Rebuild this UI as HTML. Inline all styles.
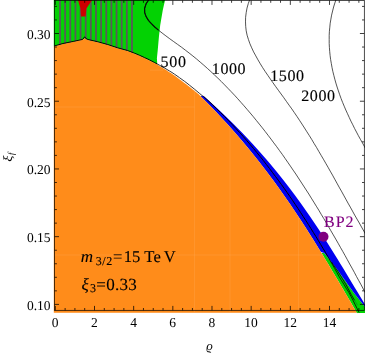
<!DOCTYPE html>
<html><head><meta charset="utf-8"><title>plot</title><style>html,body{margin:0;padding:0;background:#fff;width:365px;height:356px;overflow:hidden;font-family:"Liberation Serif",serif}</style></head><body>
<svg width="365" height="356" viewBox="0 0 365 356" style="display:block;position:absolute;left:0;top:0;font-family:'Liberation Serif',serif;text-rendering:geometricPrecision">
<rect width="365" height="356" fill="#fff"/>
<polygon points="53.8,-1.0 165.3,-1.0 162.8,10.1 160.2,25.3 158.9,37.1 157.7,50.6 156.9,58.2 157.2,63.0 157.0,64.3 154.5,63.0 152.0,61.7 149.5,60.4 147.0,59.2 144.5,58.1 142.0,56.9 139.5,55.8 137.0,54.7 134.5,53.7 132.0,52.7 127.5,50.9 117.6,48.2 107.7,44.9 97.9,42.2 88.0,39.9 86.0,39.0 84.7,38.6 82.7,39.8 73.9,41.7 63.0,43.9 54.5,46.3 53.8,46.5" fill="#03d203"/>
<g clip-path="url(#cg)">
<rect x="59.10" y="-1" width="1.8" height="70" fill="#5a5a5a"/>
<rect x="64.24" y="-1" width="1.8" height="70" fill="#5a5a5a"/>
<rect x="69.38" y="-1" width="1.8" height="70" fill="#5a5a5a"/>
<rect x="74.52" y="-1" width="1.8" height="70" fill="#5a5a5a"/>
<rect x="79.66" y="-1" width="1.8" height="70" fill="#5a5a5a"/>
<rect x="84.80" y="-1" width="1.8" height="70" fill="#5a5a5a"/>
<rect x="89.94" y="-1" width="1.8" height="70" fill="#5a5a5a"/>
<rect x="95.08" y="-1" width="1.8" height="70" fill="#5a5a5a"/>
<rect x="100.22" y="-1" width="1.8" height="70" fill="#5a5a5a"/>
<rect x="105.36" y="-1" width="1.8" height="70" fill="#5a5a5a"/>
<rect x="110.50" y="-1" width="1.8" height="70" fill="#5a5a5a"/>
<rect x="115.64" y="-1" width="1.8" height="70" fill="#5a5a5a"/>
<rect x="120.78" y="-1" width="1.8" height="70" fill="#5a5a5a"/>
<rect x="125.92" y="-1" width="1.8" height="70" fill="#5a5a5a"/>
<rect x="131.06" y="-1" width="1.8" height="70" fill="#5a5a5a"/>
</g>
<defs><clipPath id="cg"><polygon points="53.8,-1.0 165.3,-1.0 162.8,10.1 160.2,25.3 158.9,37.1 157.7,50.6 156.9,58.2 157.2,63.0 157.0,64.3 154.5,63.0 152.0,61.7 149.5,60.4 147.0,59.2 144.5,58.1 142.0,56.9 139.5,55.8 137.0,54.7 134.5,53.7 132.0,52.7 127.5,50.9 117.6,48.2 107.7,44.9 97.9,42.2 88.0,39.9 86.0,39.0 84.7,38.6 82.7,39.8 73.9,41.7 63.0,43.9 54.5,46.3 53.8,46.5"/></clipPath></defs>
<polygon points="77.6,-1.0 80.4,8.0 81.0,16.4 85.6,16.4 86.4,8.4 92.8,-1.0" fill="#cc0000"/>
<polygon points="321.5,253.0 323.9,257.0 326.3,261.0 328.8,265.0 331.1,269.0 333.5,273.0 335.9,277.0 338.3,281.0 340.6,285.0 343.0,289.0 345.3,293.0 347.6,297.0 350.0,301.0 352.3,305.0 354.6,309.0 356.9,313.0 369.7,313.0 366.6,309.0 363.5,305.0 360.3,301.0 357.1,297.0 354.0,293.0 351.1,289.0 348.2,285.0 345.4,281.0 342.5,277.0 339.7,273.0 336.8,269.0 333.7,265.0 330.6,261.0 327.4,257.0 324.2,253.0" fill="#03d203"/>
<polygon points="200.4,96.0 203.4,99.0 206.4,102.0 209.4,105.0 212.3,108.0 215.2,111.0 218.0,114.0 220.8,117.0 223.6,120.0 226.4,123.0 229.1,126.0 231.8,129.0 234.4,132.0 237.0,135.0 239.6,138.0 242.2,141.0 244.7,144.0 247.2,147.0 249.7,150.0 252.1,153.0 254.5,156.0 256.9,159.0 259.3,162.0 261.6,165.0 263.9,168.0 266.2,171.0 268.5,174.0 270.7,177.0 273.0,180.0 275.2,183.0 277.3,186.0 279.5,189.0 281.6,192.0 283.7,195.0 285.8,198.0 287.9,201.0 290.0,204.0 292.0,207.0 294.0,210.0 296.0,213.0 298.0,216.0 300.0,219.0 302.0,222.0 303.9,225.0 305.9,228.0 307.8,231.0 309.7,234.0 311.6,237.0 313.5,240.0 315.3,243.0 317.2,246.0 319.0,249.0 320.9,252.0 324.2,253.0 327.4,257.0 330.6,261.0 333.7,265.0 336.8,269.0 339.7,273.0 342.5,277.0 345.4,281.0 348.2,285.0 351.1,289.0 354.0,293.0 357.1,297.0 360.3,301.0 363.5,305.0 366.6,309.0 369.7,313.0 367.2,308.0 364.7,304.0 362.3,300.0 359.9,296.0 357.5,292.0 355.0,288.0 352.6,284.0 350.2,280.0 347.8,276.0 345.4,272.0 343.0,268.0 340.5,264.0 338.1,260.0 335.6,256.0 333.1,252.0 330.6,248.0 328.1,244.0 325.6,240.0 323.0,236.0 320.4,232.0 317.8,228.0 315.1,224.0 312.4,220.0 309.7,216.0 306.9,212.0 304.1,208.0 301.3,204.0 298.4,200.0 295.5,196.0 292.5,192.0 289.5,188.0 286.4,184.0 283.3,180.0 280.1,176.0 276.9,172.0 273.6,168.0 270.3,164.0 266.9,160.0 263.4,156.0 259.9,152.0 256.3,148.0 252.7,144.0 249.0,140.0 245.2,136.0 241.4,132.0 237.4,128.0 233.5,124.0 229.4,120.0 225.3,116.0 221.1,112.0 216.9,108.0 212.5,104.0 208.1,100.0 203.6,96.0" fill="#0000f0"/>
<polygon points="53.8,312.8 53.8,46.5 54.5,46.3 63.0,43.9 73.9,41.7 82.7,39.8 84.7,38.6 86.0,39.0 88.0,39.9 97.9,42.2 107.7,44.9 117.6,48.2 127.5,50.9 132.0,52.7 134.5,53.7 137.0,54.7 139.5,55.8 142.0,56.9 144.5,58.1 147.0,59.2 149.5,60.4 152.0,61.7 154.5,63.0 157.0,64.3 159.0,65.7 161.5,67.2 164.0,68.7 166.5,70.3 169.0,71.9 171.5,73.5 174.0,75.2 176.5,77.1 179.0,79.0 181.5,80.8 184.0,82.7 186.5,84.6 189.0,86.5 191.5,88.5 194.0,90.5 196.5,92.6 199.0,94.6 200.4,96.0 204.4,100.0 208.4,104.0 212.3,108.0 216.1,112.0 219.9,116.0 223.6,120.0 227.3,124.0 230.9,128.0 234.4,132.0 237.9,136.0 241.3,140.0 244.7,144.0 248.0,148.0 251.3,152.0 254.5,156.0 257.7,160.0 260.8,164.0 263.9,168.0 267.0,172.0 270.0,176.0 273.0,180.0 275.9,184.0 278.8,188.0 281.6,192.0 284.4,196.0 287.2,200.0 290.0,204.0 292.7,208.0 295.4,212.0 298.0,216.0 300.7,220.0 303.3,224.0 305.9,228.0 308.4,232.0 310.9,236.0 313.5,240.0 316.0,244.0 318.4,248.0 320.9,252.0 323.3,256.0 325.7,260.0 328.2,264.0 330.5,268.0 332.9,272.0 335.3,276.0 337.7,280.0 340.0,284.0 342.4,288.0 344.7,292.0 347.1,296.0 349.4,300.0 351.7,304.0 354.0,308.0 356.4,312.0 357.2,313.5 357.2,312.8" fill="#ff8c1a"/>
<path d="M194.5 90V312M230 128V312M298.5 217V312M54 107H194.5M150 70.2H163M54 255H324" fill="none" stroke="#ffb060" stroke-opacity="0.35" stroke-width="0.8"/>
<path d="M54.5 45.9 L63.0 43.5 L73.9 41.3 L82.7 39.4 L84.7 36.8 L86.0 38.6 L88.0 39.5 L97.9 41.8 L107.7 44.5 L117.6 47.8 L127.5 50.5 L132.0 52.2 L134.5 53.2 L137.0 54.2 L139.5 55.3 L142.0 56.4 L144.5 57.6 L147.0 58.7 L149.5 59.9 L152.0 61.2 L154.5 62.5 L157.0 63.8" fill="none" stroke="#000" stroke-width="0.95" stroke-linejoin="miter"/>
<path d="M157.0 63.8 L159.5 65.2 L162.0 66.6 L164.5 68.0 L167.0 69.5 L169.5 71.0 L172.0 72.5 L174.5 74.2 L177.0 75.9 L179.5 77.7 L182.0 79.5 L184.5 81.3 L187.0 83.2 L189.5 85.2 L192.0 87.2 L194.5 89.2 L197.0 91.3 L199.5 93.4 L202.0 95.5 L203.6 96.5" fill="none" stroke="#111" stroke-width="0.85"/>
<path d="M203.6 96.5 L208.0 100.5 L212.3 104.5 L216.4 108.5 L220.5 112.5 L224.5 116.5 L228.4 120.5 L232.2 124.5 L235.9 128.5 L239.6 132.5 L243.2 136.5 L246.7 140.5 L250.1 144.5 L253.5 148.5 L256.8 152.5 L260.1 156.5 L263.3 160.5 L266.4 164.5 L269.5 168.5 L272.5 172.5 L275.5 176.5 L278.5 180.5 L281.4 184.5 L284.3 188.5 L287.1 192.5 L289.9 196.5 L292.6 200.5 L295.3 204.5 L298.0 208.5 L300.6 212.5 L303.2 216.5 L305.8 220.5 L308.4 224.5 L310.9 228.5 L313.4 232.5 L315.9 236.5 L318.3 240.5 L320.7 244.5 L323.1 248.5 L325.5 252.5 L327.8 256.5" fill="none" stroke="#000" stroke-width="1.0"/>
<path d="M354.6 300.3 L357.6 305.3" fill="none" stroke="#063" stroke-opacity="0.7" stroke-width="0.7"/>
<path d="M327.8 256.5 L330.1 260.5 L332.4 264.5 L334.7 268.5 L336.9 272.5 L339.1 276.5 L341.5 280.5 L344.0 284.5 L346.4 288.5 L348.9 292.5 L351.0 296.5 L353.1 300.5 L355.1 304.5 L357.1 308.5 L359.1 312.5" fill="none" stroke="#000" stroke-width="0.8"/>
<path d="M331.5 262.0 L338.0 271.5 L346.2 285.0 L351.2 294.5 L354.6 300.3" fill="none" stroke="#000" stroke-width="0.8"/>
<path d="M149.5 -1.3 L146.1 3.8 L144.6 8.4 L144.7 12.7 L146.1 16.6 L148.4 20.3 L151.4 23.7 L154.8 27.0 L158.4 30.1" fill="none" stroke="#000" stroke-width="1.1"/>
<path d="M149.5 -1.3 L146.1 3.8 L144.6 8.4 L144.7 12.7 L146.1 16.6 L148.4 20.3 L151.4 23.7 L154.8 27.0 L158.4 30.1 L162.1 33.0 L165.9 35.9 L169.8 38.8 L173.7 41.6 L177.6 44.4 L181.5 47.2 L185.3 50.1 L189.1 53.0 L192.9 56.0 L196.6 59.0 L200.2 62.1 L203.8 65.2 L207.4 68.4 L210.9 71.6 L214.4 74.9 L217.9 78.2 L221.3 81.5 L224.6 84.9 L227.9 88.3 L231.2 91.7 L234.5 95.2 L237.7 98.7 L240.9 102.3 L244.0 105.8 L247.1 109.4 L250.2 113.0 L253.3 116.7 L256.3 120.4 L259.3 124.1 L262.3 127.8 L265.2 131.5 L268.1 135.3 L271.0 139.1 L273.8 142.9 L276.7 146.7 L279.5 150.6 L282.3 154.4 L285.0 158.3 L287.7 162.2 L290.4 166.1 L293.1 170.1 L295.8 174.0 L298.4 178.0 L301.0 182.0 L303.6 186.0 L306.2 190.0 L308.8 194.0 L311.3 198.1 L313.8 202.1 L316.3 206.2 L318.8 210.2 L321.2 214.3 L323.7 218.4 L326.1 222.5 L328.5 226.6 L330.9 230.8 L333.3 234.9 L335.7 239.0 L338.1 243.2 L340.4 247.3 L342.8 251.5 L345.1 255.6 L347.4 259.8 L349.7 264.0 L352.0 268.1 L354.3 272.3 L356.5 276.5 L358.8 280.7 L361.1 284.8 L363.3 289.0 L365.6 293.2" fill="none" stroke="#111" stroke-width="0.72"/>
<path d="M250.0 -1.1 L248.3 3.5 L247.0 8.1 L246.2 12.7 L245.6 17.3 L245.5 21.9 L245.7 26.4 L246.2 30.8 L247.1 35.2 L248.4 39.4 L249.9 43.7 L251.7 47.8 L253.6 51.9 L255.8 55.9 L258.0 59.9 L260.3 63.8 L262.7 67.7 L265.2 71.5 L267.8 75.3 L270.4 79.1 L273.0 82.8 L275.7 86.6 L278.4 90.3 L281.1 94.0 L283.8 97.7 L286.4 101.4 L289.1 105.2 L291.8 108.9 L294.4 112.7 L297.0 116.5 L299.5 120.3 L302.0 124.1 L304.5 128.0 L306.9 131.8 L309.4 135.7 L311.8 139.6 L314.1 143.5 L316.5 147.4 L318.8 151.4 L321.1 155.3 L323.4 159.2 L325.7 163.2 L328.0 167.2 L330.2 171.1 L332.5 175.1 L334.7 179.1 L336.9 183.1 L339.1 187.1 L341.4 191.1 L343.6 195.1 L345.8 199.1 L348.0 203.1 L350.3 207.1 L352.5 211.1 L354.7 215.1 L357.0 219.1 L359.3 223.0 L361.5 227.0 L363.8 231.0 L366.1 235.0" fill="none" stroke="#111" stroke-width="0.72"/>
<path d="M336.3 -1.2 L334.9 2.9 L333.6 7.0 L332.6 11.0 L331.6 15.1 L330.9 19.1 L330.2 23.2 L329.8 27.2 L329.4 31.3 L329.2 35.3 L329.2 39.4 L329.2 43.4 L329.4 47.4 L329.7 51.4 L330.1 55.4 L330.6 59.4 L331.3 63.4 L332.0 67.4 L332.8 71.3 L333.8 75.3 L334.8 79.2 L335.9 83.1 L337.1 87.0 L338.4 90.9 L339.7 94.7 L341.1 98.6 L342.6 102.4 L344.2 106.2 L345.8 110.0 L347.5 113.7 L349.2 117.4 L350.9 121.1 L352.8 124.8 L354.6 128.5 L356.5 132.1 L358.4 135.7 L360.4 139.3 L362.4 142.8 L364.3 146.3 L366.4 149.8" fill="none" stroke="#111" stroke-width="0.72"/>
<rect x="54.6" y="0.5" width="309.7" height="309.8" fill="none" stroke="#000" stroke-width="0.7"/>
<path d="M55.33 310.3 v-4.4 M55.33 0.5 v4.4 M65.12 310.3 v-2.3 M65.12 0.5 v2.3 M74.91 310.3 v-2.3 M74.91 0.5 v2.3 M84.70 310.3 v-2.3 M84.70 0.5 v2.3 M94.50 310.3 v-4.4 M94.50 0.5 v4.4 M104.29 310.3 v-2.3 M104.29 0.5 v2.3 M114.08 310.3 v-2.3 M114.08 0.5 v2.3 M123.87 310.3 v-2.3 M123.87 0.5 v2.3 M133.66 310.3 v-4.4 M133.66 0.5 v4.4 M143.45 310.3 v-2.3 M143.45 0.5 v2.3 M153.25 310.3 v-2.3 M153.25 0.5 v2.3 M163.04 310.3 v-2.3 M163.04 0.5 v2.3 M172.83 310.3 v-4.4 M172.83 0.5 v4.4 M182.62 310.3 v-2.3 M182.62 0.5 v2.3 M192.41 310.3 v-2.3 M192.41 0.5 v2.3 M202.20 310.3 v-2.3 M202.20 0.5 v2.3 M211.99 310.3 v-4.4 M211.99 0.5 v4.4 M221.79 310.3 v-2.3 M221.79 0.5 v2.3 M231.58 310.3 v-2.3 M231.58 0.5 v2.3 M241.37 310.3 v-2.3 M241.37 0.5 v2.3 M251.16 310.3 v-4.4 M251.16 0.5 v4.4 M260.95 310.3 v-2.3 M260.95 0.5 v2.3 M270.74 310.3 v-2.3 M270.74 0.5 v2.3 M280.53 310.3 v-2.3 M280.53 0.5 v2.3 M290.33 310.3 v-4.4 M290.33 0.5 v4.4 M300.12 310.3 v-2.3 M300.12 0.5 v2.3 M309.91 310.3 v-2.3 M309.91 0.5 v2.3 M319.70 310.3 v-2.3 M319.70 0.5 v2.3 M329.49 310.3 v-4.4 M329.49 0.5 v4.4 M339.28 310.3 v-2.3 M339.28 0.5 v2.3 M349.07 310.3 v-2.3 M349.07 0.5 v2.3 M358.87 310.3 v-2.3 M358.87 0.5 v2.3 M54.6 304.40 h4.4 M364.3 304.40 h-4.4 M54.6 290.85 h2.3 M364.3 290.85 h-2.3 M54.6 277.31 h2.3 M364.3 277.31 h-2.3 M54.6 263.76 h2.3 M364.3 263.76 h-2.3 M54.6 250.22 h2.3 M364.3 250.22 h-2.3 M54.6 236.67 h4.4 M364.3 236.67 h-4.4 M54.6 223.13 h2.3 M364.3 223.13 h-2.3 M54.6 209.58 h2.3 M364.3 209.58 h-2.3 M54.6 196.04 h2.3 M364.3 196.04 h-2.3 M54.6 182.49 h2.3 M364.3 182.49 h-2.3 M54.6 168.95 h4.4 M364.3 168.95 h-4.4 M54.6 155.40 h2.3 M364.3 155.40 h-2.3 M54.6 141.86 h2.3 M364.3 141.86 h-2.3 M54.6 128.31 h2.3 M364.3 128.31 h-2.3 M54.6 114.77 h2.3 M364.3 114.77 h-2.3 M54.6 101.22 h4.4 M364.3 101.22 h-4.4 M54.6 87.68 h2.3 M364.3 87.68 h-2.3 M54.6 74.13 h2.3 M364.3 74.13 h-2.3 M54.6 60.59 h2.3 M364.3 60.59 h-2.3 M54.6 47.04 h2.3 M364.3 47.04 h-2.3 M54.6 33.50 h4.4 M364.3 33.50 h-4.4 M54.6 19.95 h2.3 M364.3 19.95 h-2.3 M54.6 6.41 h2.3 M364.3 6.41 h-2.3" fill="none" stroke="#000" stroke-width="0.75"/>
<circle cx="323.5" cy="236.8" r="5" fill="#800080"/>
</svg>
<svg width="365" height="356" viewBox="0 0 365 356" style="display:block;position:absolute;left:0;top:0;will-change:transform;font-family:'Liberation Serif',serif;text-rendering:geometricPrecision">
<text x="50.5" y="309.8" font-size="13.5" text-anchor="end" fill="#000">0.10</text>
<text x="50.5" y="242.1" font-size="13.5" text-anchor="end" fill="#000">0.15</text>
<text x="50.5" y="174.3" font-size="13.5" text-anchor="end" fill="#000">0.20</text>
<text x="50.5" y="106.6" font-size="13.5" text-anchor="end" fill="#000">0.25</text>
<text x="50.5" y="38.9" font-size="13.5" text-anchor="end" fill="#000">0.30</text>
<text x="55.2" y="327.0" font-size="13.5" text-anchor="middle" fill="#000">0</text>
<text x="94.4" y="327.0" font-size="13.5" text-anchor="middle" fill="#000">2</text>
<text x="133.6" y="327.0" font-size="13.5" text-anchor="middle" fill="#000">4</text>
<text x="172.7" y="327.0" font-size="13.5" text-anchor="middle" fill="#000">6</text>
<text x="211.9" y="327.0" font-size="13.5" text-anchor="middle" fill="#000">8</text>
<text x="251.1" y="327.0" font-size="13.5" text-anchor="middle" fill="#000">10</text>
<text x="290.2" y="327.0" font-size="13.5" text-anchor="middle" fill="#000">12</text>
<text x="329.4" y="327.0" font-size="13.5" text-anchor="middle" fill="#000">14</text>
<text x="160.6" y="67" font-size="16" fill="#000" textLength="25.3" stroke="#000" stroke-width="0.15">500</text>
<text x="211.8" y="74" font-size="16" fill="#000" textLength="33.8" stroke="#000" stroke-width="0.15">1000</text>
<text x="270.2" y="80.5" font-size="16" fill="#000" textLength="33.8" stroke="#000" stroke-width="0.15">1500</text>
<text x="301.2" y="101" font-size="16" fill="#000" textLength="33.8" stroke="#000" stroke-width="0.15">2000</text>
<text x="324.0" y="226.5" font-size="16" fill="#800080" stroke="#800080" stroke-width="0.12" letter-spacing="1.0">BP2</text>
<text x="80.8" y="261.8" font-size="17" font-style="italic" fill="#000" stroke="#000" stroke-width="0.12">m</text>
<text x="95.8" y="264.9" font-size="12" fill="#000" stroke="#000" stroke-width="0.12" letter-spacing="0.5">3/2</text>
<text y="261.6" font-size="16.6" fill="#000" stroke="#000" stroke-width="0.12" x="113.1 123.7 131.9 144.2 153.4 163.8">=15TeV</text>
<text x="81.5" y="289.8" font-size="17" font-style="italic" fill="#000" stroke="#000" stroke-width="0.12">ξ</text>
<text x="90" y="292.1" font-size="12" fill="#000" stroke="#000" stroke-width="0.12">3</text>
<text x="96.3" y="289.7" font-size="17" fill="#000" stroke="#000" stroke-width="0.12">=</text>
<text x="106.2" y="289.7" font-size="17" fill="#000" stroke="#000" stroke-width="0.12" letter-spacing="0.3">0.33</text>
<text x="206.3" y="349.8" font-size="12.8" font-style="italic" fill="#000">ϱ</text>
<g transform="translate(12.4,161.7) rotate(-90)"><text x="0" y="0" font-size="12.8" font-style="italic" fill="#000" transform="scale(1.15,1)">ξ</text><text x="6.8" y="1.5" font-size="9" font-style="italic" fill="#000">f</text></g>
</svg>
</body></html>
